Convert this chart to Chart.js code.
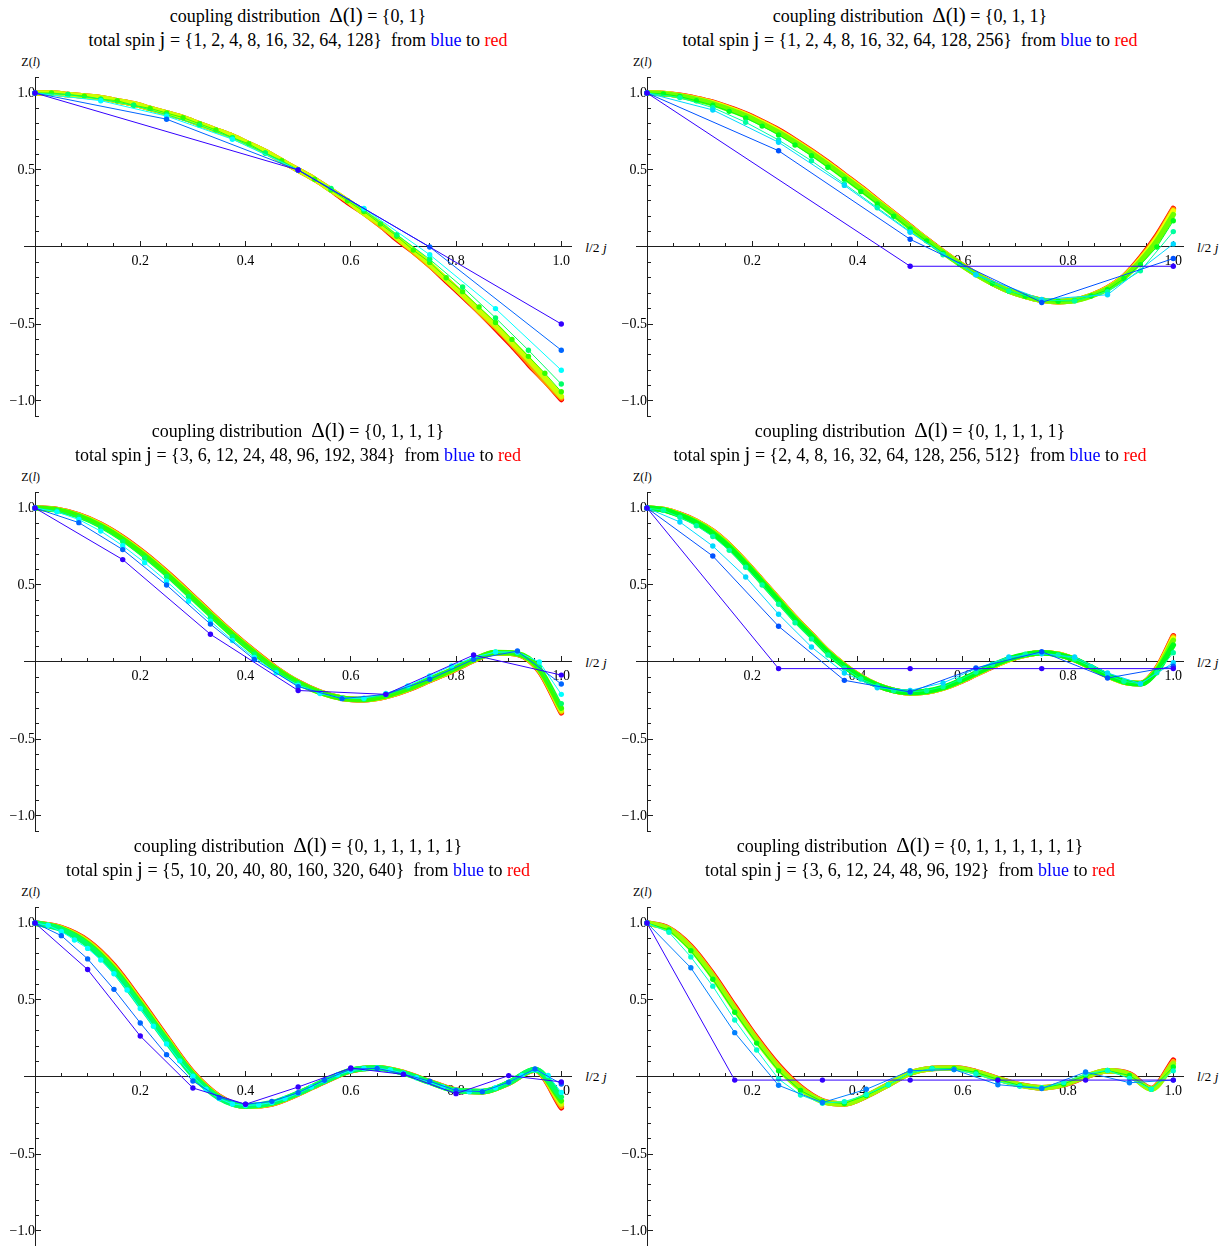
<!DOCTYPE html>
<html>
<head>
<meta charset="utf-8">
<script src="https://cdn.jsdelivr.net/npm/chart.js@4.4.1/dist/chart.umd.min.js"></script>
<style>
  html, body { margin: 0; padding: 0; background: #fff; }
  body { width: 1226px; height: 1246px; position: relative; overflow: hidden;
         font-family: "Liberation Serif", "DejaVu Serif", serif; color: #000; }
  .ttl { position: absolute; white-space: nowrap; font-size: 18px; line-height: 20px;
         transform: translateX(-50%); }
  .big { font-size: 21px; }
  .axl { position: absolute; white-space: nowrap; line-height: 1; }
  canvas { position: absolute; }
</style>
</head>
<body>
<script>
// ---------- Panel 1: coupling {0,1} ----------
const p1_coupling = [0, 1];
const p1_spins = [1, 2, 4, 8, 16, 32, 64, 128];
const p1_j1 = [1, 0.5, -0.5];
const p1_j2 = [1, 0.83, 0.5, 0, -0.67];
const p1_j4 = [1, 0.95, 0.85, 0.7, 0.5, 0.25, -0.05, -0.4, -0.8];
const p1_j8 = [1, 0.99, 0.96, 0.92, 0.86, 0.79, 0.71, 0.61, 0.5, 0.38, 0.24, 0.08, -0.08, -0.26, -0.46, -0.67, -0.89];
const p1_j16 = [1, 1.0, 0.99, 0.98, 0.96, 0.95, 0.92, 0.9, 0.87, 0.84, 0.8, 0.76, 0.71, 0.67, 0.61, 0.56, 0.5, 0.44, 0.37, 0.3, 0.23, 0.15, 0.07, -0.02, -0.1, -0.2, -0.29, -0.39, -0.49, -0.6, -0.71, -0.82, -0.94];
const p1_j32 = [1, 1.0, 0.99, 0.98, 0.97, 0.95, 0.93, 0.9, 0.87, 0.84, 0.8, 0.76, 0.72, 0.67, 0.62, 0.56, 0.5, 0.44, 0.37, 0.3, 0.22, 0.15, 0.06, -0.02, -0.11, -0.21, -0.31, -0.41, -0.51, -0.62, -0.73, -0.85, -0.97];
const p1_j64 = [1, 1.0, 0.99, 0.98, 0.97, 0.95, 0.93, 0.9, 0.87, 0.84, 0.8, 0.76, 0.72, 0.67, 0.62, 0.56, 0.5, 0.44, 0.37, 0.3, 0.22, 0.14, 0.06, -0.03, -0.12, -0.21, -0.31, -0.42, -0.52, -0.63, -0.75, -0.87, -0.98];
const p1_j128 = [1, 1.0, 0.99, 0.98, 0.97, 0.95, 0.93, 0.9, 0.87, 0.84, 0.8, 0.76, 0.72, 0.67, 0.62, 0.56, 0.5, 0.44, 0.37, 0.29, 0.22, 0.14, 0.05, -0.03, -0.12, -0.22, -0.32, -0.42, -0.53, -0.64, -0.76, -0.87, -0.99];

// ---------- Panel 2: coupling {0,1,1} ----------
const p2_coupling = [0, 1, 1];
const p2_spins = [1, 2, 4, 8, 16, 32, 64, 128, 256];
const p2_j1 = [1, -0.125, -0.125];
const p2_j2 = [1, 0.625, 0.05, -0.36, -0.075];
const p2_j4 = [1, 0.89, 0.68, 0.4, 0.095, -0.18, -0.34, -0.31, 0.02];
const p2_j8 = [1, 0.97, 0.905, 0.81, 0.695, 0.56, 0.41, 0.255, 0.1, -0.05, -0.18, -0.285, -0.345, -0.35, -0.29, -0.155, 0.1];
const p2_j16 = [1, 0.994, 0.977, 0.95, 0.92, 0.881, 0.838, 0.785, 0.728, 0.662, 0.593, 0.518, 0.44, 0.36, 0.28, 0.2, 0.118, 0.04, -0.04, -0.112, -0.178, -0.237, -0.285, -0.32, -0.345, -0.352, -0.348, -0.318, -0.278, -0.205, -0.115, 0.0, 0.17];
const p2_j32 = [1, 0.996, 0.981, 0.958, 0.93, 0.893, 0.852, 0.8, 0.744, 0.679, 0.609, 0.534, 0.455, 0.375, 0.293, 0.21, 0.127, 0.045, -0.035, -0.109, -0.177, -0.236, -0.285, -0.32, -0.345, -0.354, -0.347, -0.317, -0.272, -0.198, -0.093, 0.038, 0.21];
const p2_j64 = [1, 0.997, 0.983, 0.962, 0.935, 0.899, 0.859, 0.808, 0.752, 0.687, 0.617, 0.542, 0.463, 0.383, 0.299, 0.215, 0.131, 0.048, -0.032, -0.107, -0.176, -0.236, -0.285, -0.32, -0.345, -0.355, -0.346, -0.316, -0.268, -0.194, -0.082, 0.057, 0.235];
const p2_j128 = [1, 0.997, 0.984, 0.964, 0.938, 0.902, 0.862, 0.812, 0.756, 0.691, 0.621, 0.546, 0.467, 0.387, 0.302, 0.218, 0.133, 0.049, -0.031, -0.106, -0.175, -0.235, -0.285, -0.32, -0.345, -0.355, -0.345, -0.315, -0.266, -0.192, -0.076, 0.066, 0.245];
const p2_j256 = [1, 0.997, 0.985, 0.965, 0.94, 0.905, 0.865, 0.815, 0.76, 0.695, 0.625, 0.55, 0.47, 0.39, 0.305, 0.22, 0.135, 0.05, -0.03, -0.105, -0.175, -0.235, -0.285, -0.32, -0.345, -0.355, -0.345, -0.315, -0.265, -0.19, -0.07, 0.075, 0.25];

// ---------- Panel 3: coupling {0,1,1,1} ----------
const p3_coupling = [0, 1, 1, 1];
const p3_spins = [3, 6, 12, 24, 48, 96, 192, 384];
const p3_j3 = [1, 0.665, 0.18, -0.185, -0.21, 0.045, -0.085];
const p3_j6 = [1, 0.905, 0.73, 0.5, 0.246, 0.017, -0.16, -0.238, -0.21, -0.112, 0.017, 0.071, -0.143];
const p3_j12 = [1, 0.975, 0.925, 0.85, 0.755, 0.645, 0.525, 0.395, 0.265, 0.14, 0.03, -0.07, -0.15, -0.205, -0.235, -0.235, -0.205, -0.155, -0.09, -0.025, 0.03, 0.065, 0.065, 0.0, -0.21];
const p3_j24 = [1, 0.983, 0.94, 0.873, 0.783, 0.675, 0.555, 0.425, 0.293, 0.165, 0.05, -0.055, -0.14, -0.2, -0.235, -0.24, -0.215, -0.168, -0.105, -0.043, 0.02, 0.063, 0.058, -0.03, -0.27];
const p3_j48 = [1, 0.987, 0.948, 0.884, 0.797, 0.69, 0.57, 0.44, 0.307, 0.178, 0.06, -0.048, -0.135, -0.198, -0.235, -0.243, -0.22, -0.174, -0.113, -0.052, 0.015, 0.061, 0.054, -0.045, -0.3];
const p3_j96 = [1, 0.989, 0.952, 0.89, 0.804, 0.698, 0.578, 0.448, 0.314, 0.184, 0.065, -0.044, -0.132, -0.197, -0.235, -0.244, -0.223, -0.177, -0.117, -0.056, 0.012, 0.06, 0.052, -0.053, -0.315];
const p3_j192 = [1, 0.99, 0.954, 0.893, 0.807, 0.702, 0.582, 0.452, 0.317, 0.187, 0.068, -0.042, -0.131, -0.196, -0.235, -0.245, -0.224, -0.179, -0.119, -0.058, 0.011, 0.06, 0.051, -0.057, -0.323];
const p3_j384 = [1, 0.99, 0.955, 0.895, 0.81, 0.705, 0.585, 0.455, 0.32, 0.19, 0.07, -0.04, -0.13, -0.195, -0.235, -0.245, -0.225, -0.18, -0.12, -0.06, 0.01, 0.06, 0.05, -0.06, -0.33];

// ---------- Panel 4: coupling {0,1,1,1,1} ----------
const p4_coupling = [0, 1, 1, 1, 1];
const p4_spins = [2, 4, 8, 16, 32, 64, 128, 256, 512];
const p4_j2 = [1, -0.043, -0.043, -0.043, -0.043];
const p4_j4 = [1, 0.688, 0.232, -0.119, -0.195, -0.039, 0.067, -0.104, -0.028];
const p4_j8 = [1, 0.909, 0.753, 0.552, 0.31, 0.097, -0.071, -0.167, -0.184, -0.136, -0.043, 0.032, 0.054, 0.032, -0.071, -0.141, -0.005];
const p4_j16 = [1, 0.985, 0.94, 0.885, 0.815, 0.725, 0.615, 0.5, 0.375, 0.255, 0.15, 0.045, -0.04, -0.11, -0.155, -0.185, -0.195, -0.185, -0.16, -0.115, -0.065, -0.015, 0.025, 0.05, 0.058, 0.045, 0.02, -0.03, -0.083, -0.125, -0.142, -0.07, 0.06];
const p4_j32 = [1, 0.988, 0.952, 0.903, 0.835, 0.745, 0.635, 0.517, 0.395, 0.275, 0.168, 0.06, -0.028, -0.1, -0.152, -0.185, -0.198, -0.19, -0.165, -0.122, -0.072, -0.022, 0.02, 0.048, 0.06, 0.048, 0.017, -0.033, -0.087, -0.128, -0.142, -0.06, 0.11];
const p4_j64 = [1, 0.989, 0.956, 0.909, 0.843, 0.753, 0.643, 0.524, 0.403, 0.283, 0.174, 0.065, -0.024, -0.097, -0.151, -0.185, -0.199, -0.193, -0.168, -0.126, -0.076, -0.026, 0.018, 0.046, 0.06, 0.049, 0.016, -0.034, -0.088, -0.129, -0.141, -0.052, 0.14];
const p4_j128 = [1, 0.99, 0.958, 0.912, 0.847, 0.757, 0.647, 0.527, 0.407, 0.287, 0.177, 0.068, -0.022, -0.096, -0.15, -0.185, -0.2, -0.194, -0.169, -0.128, -0.078, -0.028, 0.016, 0.045, 0.06, 0.05, 0.015, -0.035, -0.089, -0.13, -0.14, -0.046, 0.155];
const p4_j256 = [1, 0.99, 0.959, 0.914, 0.849, 0.759, 0.649, 0.529, 0.409, 0.289, 0.179, 0.069, -0.021, -0.095, -0.15, -0.185, -0.2, -0.195, -0.17, -0.129, -0.079, -0.029, 0.015, 0.045, 0.06, 0.05, 0.015, -0.035, -0.09, -0.13, -0.14, -0.043, 0.165];
const p4_j512 = [1, 0.99, 0.96, 0.915, 0.85, 0.76, 0.65, 0.53, 0.41, 0.29, 0.18, 0.07, -0.02, -0.095, -0.15, -0.185, -0.2, -0.195, -0.17, -0.13, -0.08, -0.03, 0.015, 0.045, 0.06, 0.05, 0.015, -0.035, -0.09, -0.13, -0.14, -0.04, 0.17];

// ---------- Panel 5: coupling {0,1,1,1,1,1} ----------
const p5_coupling = [0, 1, 1, 1, 1, 1];
const p5_spins = [5, 10, 20, 40, 80, 160, 320, 640];
const p5_j5 = [1, 0.698, 0.266, -0.071, -0.177, -0.065, 0.058, 0.017, -0.108, 0.009, -0.032];
const p5_j10 = [1, 0.918, 0.767, 0.569, 0.351, 0.145, -0.026, -0.134, -0.177, -0.158, -0.102, -0.021, 0.052, 0.056, 0.02, -0.028, -0.088, -0.095, -0.034, 0.052, -0.045];
const p5_j20 = [1, 0.985, 0.945, 0.89, 0.835, 0.76, 0.67, 0.565, 0.445, 0.33, 0.215, 0.105, 0.005, -0.08, -0.14, -0.175, -0.185, -0.18, -0.165, -0.14, -0.105, -0.065, -0.025, 0.015, 0.04, 0.055, 0.058, 0.045, 0.025, -0.005, -0.035, -0.065, -0.085, -0.095, -0.092, -0.07, -0.035, 0.01, 0.045, 0.01, -0.1];
const p5_j40 = [1, 0.958, 0.858, 0.69, 0.465, 0.232, 0.01, -0.137, -0.188, -0.167, -0.105, -0.026, 0.043, 0.058, 0.025, -0.034, -0.088, -0.094, -0.037, 0.049, -0.13];
const p5_j80 = [1, 0.963, 0.868, 0.702, 0.478, 0.242, 0.018, -0.133, -0.189, -0.17, -0.106, -0.027, 0.042, 0.059, 0.027, -0.033, -0.088, -0.095, -0.038, 0.048, -0.155];
const p5_j160 = [1, 0.966, 0.876, 0.712, 0.488, 0.25, 0.023, -0.13, -0.19, -0.172, -0.108, -0.028, 0.041, 0.06, 0.028, -0.032, -0.087, -0.095, -0.039, 0.047, -0.175];
const p5_j320 = [1, 0.968, 0.881, 0.719, 0.494, 0.255, 0.027, -0.127, -0.19, -0.174, -0.109, -0.029, 0.04, 0.06, 0.029, -0.031, -0.086, -0.095, -0.04, 0.046, -0.19];
const p5_j640 = [1, 0.97, 0.885, 0.725, 0.5, 0.26, 0.03, -0.125, -0.19, -0.175, -0.11, -0.03, 0.04, 0.06, 0.03, -0.03, -0.085, -0.095, -0.04, 0.045, -0.2];

// ---------- Panel 6: coupling {0,1,1,1,1,1,1} ----------
const p6_coupling = [0, 1, 1, 1, 1, 1, 1];
const p6_spins = [3, 6, 12, 24, 48, 96, 192];
const p6_j3 = [1, -0.02, -0.02, -0.02, -0.02, -0.02, -0.02];
const p6_j6 = [1, 0.709, 0.288, -0.054, -0.166, -0.08, 0.041, 0.048, -0.05, -0.075, 0.032, -0.037, -0.02];
const p6_j12 = [1, 0.94, 0.78, 0.59, 0.37, 0.175, -0.013, -0.117, -0.17, -0.16, -0.114, -0.05, 0.026, 0.054, 0.048, 0.02, -0.03, -0.06, -0.07, -0.035, 0.02, 0.043, -0.01, -0.08, 0.04];
const p6_j24 = [1, 0.955, 0.82, 0.635, 0.42, 0.22, 0.04, -0.088, -0.16, -0.172, -0.12, -0.05, 0.025, 0.055, 0.056, 0.03, -0.015, -0.055, -0.071, -0.045, 0.008, 0.042, 0.01, -0.08, 0.065];
const p6_j48 = [1, 0.96, 0.835, 0.652, 0.44, 0.238, 0.058, -0.076, -0.158, -0.174, -0.123, -0.05, 0.025, 0.055, 0.058, 0.032, -0.012, -0.052, -0.07, -0.048, 0.004, 0.041, 0.015, -0.078, 0.085];
const p6_j96 = [1, 0.963, 0.843, 0.662, 0.45, 0.247, 0.067, -0.07, -0.157, -0.175, -0.124, -0.05, 0.025, 0.055, 0.059, 0.034, -0.011, -0.051, -0.07, -0.049, 0.002, 0.04, 0.018, -0.077, 0.1];
const p6_j192 = [1, 0.965, 0.85, 0.67, 0.46, 0.255, 0.075, -0.065, -0.155, -0.175, -0.125, -0.05, 0.025, 0.055, 0.06, 0.035, -0.01, -0.05, -0.07, -0.05, 0.0, 0.04, 0.02, -0.075, 0.11];

// ---------- Axis ticks ----------
const xTickValues = [0.2, 0.4, 0.6, 0.8, 1.0];
const yTickValues = [-1.0, -0.5, 0.5, 1.0];
const xMinorTicks = [0.05, 0.1, 0.15, 0.25, 0.3, 0.35, 0.45, 0.5, 0.55, 0.65, 0.7, 0.75, 0.85, 0.9, 0.95];
const yMinorTicks = [-1.1, -0.9, -0.8, -0.7, -0.6, -0.4, -0.3, -0.2, -0.1, 0.1, 0.2, 0.3, 0.4, 0.6, 0.7, 0.8, 0.9, 1.1];

// ---------- Layout of the six panels (pixel of value 0 on each axis) ----------
const panels = [
  { coupling: p1_coupling, spins: p1_spins, series: [p1_j1, p1_j2, p1_j4, p1_j8, p1_j16, p1_j32, p1_j64, p1_j128], cx: 298, x0: 35.3, y0: 247 },
  { coupling: p2_coupling, spins: p2_spins, series: [p2_j1, p2_j2, p2_j4, p2_j8, p2_j16, p2_j32, p2_j64, p2_j128, p2_j256], cx: 910, x0: 647, y0: 247 },
  { coupling: p3_coupling, spins: p3_spins, series: [p3_j3, p3_j6, p3_j12, p3_j24, p3_j48, p3_j96, p3_j192, p3_j384], cx: 298, x0: 35.3, y0: 662 },
  { coupling: p4_coupling, spins: p4_spins, series: [p4_j2, p4_j4, p4_j8, p4_j16, p4_j32, p4_j64, p4_j128, p4_j256, p4_j512], cx: 910, x0: 647, y0: 662 },
  { coupling: p5_coupling, spins: p5_spins, series: [p5_j5, p5_j10, p5_j20, p5_j40, p5_j80, p5_j160, p5_j320, p5_j640], cx: 298, x0: 35.3, y0: 1076.7 },
  { coupling: p6_coupling, spins: p6_spins, series: [p6_j3, p6_j6, p6_j12, p6_j24, p6_j48, p6_j96, p6_j192], cx: 910, x0: 647, y0: 1076.7 }
];

const XS = 526.3, YS = 154;          // pixels per unit
const X_MIN = -0.02, X_MAX = 1.02, Y_MIN = -1.1, Y_MAX = 1.1;
const CW = 630, CH = 400, OX = 50, OY = 200;
const AXIS = '#1e1e1e';

Chart.defaults.font.family = '"Liberation Serif", "DejaVu Serif", serif';
Chart.defaults.color = '#000';

function fmtTick(v) {
  return (v < 0 ? '\u2212' : '') + Math.abs(v).toFixed(1);
}
function setTicks(list) {
  return scale => { scale.ticks = list.map(v => ({ value: v })); };
}
// tick-mark-only axis, shifted so its marks point into the plot from the real axis line
function markAxis(axis, list, len, at) {
  return {
    axis: axis, type: 'linear',
    min: axis === 'x' ? X_MIN : Y_MIN, max: axis === 'x' ? X_MAX : Y_MAX,
    position: axis === 'x' ? { y: at } : { x: at },
    border: { display: false },
    grid: { display: true, drawOnChartArea: false, drawTicks: true, tickLength: len, tickColor: AXIS, tickWidth: 1 },
    ticks: { display: false },
    afterBuildTicks: setTicks(list)
  };
}

function addText(html, cls, left, top, style) {
  const d = document.createElement('div');
  d.className = cls;
  d.innerHTML = html;
  d.style.left = left + 'px';
  d.style.top = top + 'px';
  if (style) Object.assign(d.style, style);
  document.body.appendChild(d);
}

panels.forEach(p => {
  // titles
  addText('coupling distribution &nbsp;<span class="big">\u0394(l)</span> = {' + p.coupling.join(', ') + '}',
          'ttl', p.cx, p.y0 - 225 - 17.1);
  addText('total spin <span class="big">j</span> = {' + p.spins.join(', ') +
          '}&nbsp; from <span style="color:#0000ff">blue</span> to <span style="color:#ff0000">red</span>',
          'ttl', p.cx, p.y0 - 201 - 17.1);
  // axis names
  addText('Z(<i>l</i>)', 'axl', p.x0 - 14, p.y0 - 181 - 10, { fontSize: '12px' });
  addText('<i>l</i>/2 <i>j</i>', 'axl', p.x0 + 550, p.y0 + 5 - 11.3, { fontSize: '13.5px' });

  const cv = document.createElement('canvas');
  cv.width = CW; cv.height = CH;
  cv.style.left = (p.x0 - OX) + 'px';
  cv.style.top = (p.y0 - OY) + 'px';
  document.body.appendChild(cv);

  const n = p.series.length;
  const datasets = p.series.map((vals, i) => {
    const hue = 0.7 * (1 - i / (n - 1)) * 360;
    const color = 'hsl(' + hue.toFixed(1) + ',100%,50%)';
    const dense = 2 * p.spins[i] + 1 > 49;
    return {
      label: 'j = ' + p.spins[i],
      data: vals.map((v, k) => ({ x: k / (vals.length - 1), y: v })),
      borderColor: color,
      backgroundColor: color,
      pointBackgroundColor: color,
      borderWidth: dense ? 5.5 : 1,
      pointRadius: dense ? 0 : 2.7,
      pointBorderWidth: 0,
      cubicInterpolationMode: dense ? 'monotone' : 'default',
      borderCapStyle: 'round',
      borderJoinStyle: 'round'
    };
  });

  new Chart(cv, {
    type: 'line',
    data: { datasets: datasets },
    options: {
      responsive: false,
      animation: false,
      events: [],
      devicePixelRatio: 1,
      layout: { padding: {
        left: OX + X_MIN * XS, right: CW - (OX + X_MAX * XS),
        top: OY - Y_MAX * YS, bottom: CH - (OY - Y_MIN * YS) } },
      plugins: { legend: { display: false }, tooltip: { enabled: false }, title: { display: false } },
      scales: {
        x: {
          type: 'linear', min: X_MIN, max: X_MAX, position: { y: 0 },
          border: { display: true, color: AXIS, width: 1 },
          grid: { display: true, drawOnChartArea: false, drawTicks: false },
          ticks: { font: { size: 14 }, color: '#000', padding: 6, maxRotation: 0, autoSkip: false, callback: v => fmtTick(v) },
          afterBuildTicks: setTicks(xTickValues)
        },
        y: {
          type: 'linear', min: Y_MIN, max: Y_MAX, position: { x: 0 },
          border: { display: true, color: AXIS, width: 1 },
          grid: { display: true, drawOnChartArea: false, drawTicks: false },
          ticks: { font: { size: 14 }, color: '#000', padding: 8, autoSkip: false, callback: v => fmtTick(v) },
          afterBuildTicks: setTicks(yTickValues)
        },
        xMajor: markAxis('x', xTickValues, 6, 6 / YS),
        xMinor: markAxis('x', xMinorTicks, 4, 4 / YS),
        yMajor: markAxis('y', yTickValues, 6, 6 / XS),
        yMinor: markAxis('y', yMinorTicks, 4, 4 / XS)
      }
    }
  });
});
</script>
</body>
</html>
